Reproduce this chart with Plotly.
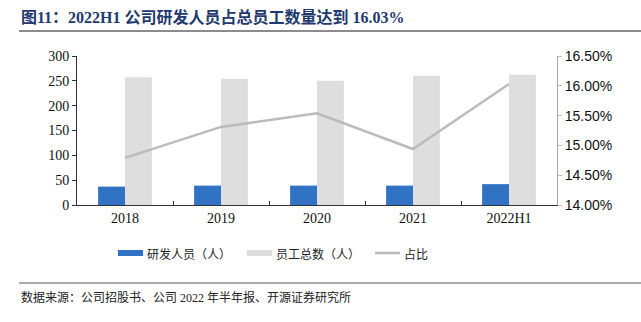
import plotly.graph_objects as go

categories = ["2018", "2019", "2020", "2021", "2022H1"]
rd_staff = [37, 39, 39, 39, 42]
total_staff = [257, 254, 250, 260, 262]
ratio_pct = [14.79, 15.31, 15.54, 14.94, 16.03]
series_names = ["研发人员（人）", "员工总数（人）", "占比"]
title_text = "图11：2022H1 公司研发人员占总员工数量达到 16.03%"
source_text = "数据来源：公司招股书、公司 2022 年半年报、开源证券研究所"

BLUE = "#3072C4"
GRAY = "#DEDEDE"
LINE = "#BBBBBB"
CJK = "Noto Sans CJK SC"
SERIF = "Liberation Serif"
SANS = "Liberation Sans"
MIX = "Liberation Serif, Noto Sans CJK SC"

W, H = 641, 322
L, R, T, B = 77, 557, 56, 205

def px(x):
    return (x - L) / (R - L)

def py(y):
    return (B - y) / (B - T)

fig = go.Figure()
fig.add_trace(go.Bar(x=categories, y=rd_staff, name=series_names[0],
                     marker=dict(color=BLUE, line=dict(width=0)), showlegend=False))
fig.add_trace(go.Bar(x=categories, y=total_staff, name=series_names[1],
                     marker=dict(color=GRAY, line=dict(width=0)), showlegend=False))
fig.add_trace(go.Scatter(x=categories, y=ratio_pct, name=series_names[2], yaxis="y2",
                         mode="lines", line=dict(color=LINE, width=2.5), showlegend=False))

shapes = []
annotations = []

# title
annotations.append(dict(text="<b>" + title_text + "</b>", xref="paper", yref="paper",
                        x=px(19), y=py(17), xanchor="left", yanchor="middle", showarrow=False,
                        font=dict(family=MIX, size=16, color="#1F3A6E")))
shapes.append(dict(type="line", xref="paper", yref="paper", x0=px(19), x1=px(641),
                   y0=py(31), y1=py(31), line=dict(color="#8C8C8C", width=2)))

# legend (manual)
leg_y = 253
leg = [(118, series_names[0], BLUE, "bar"), (247, series_names[1], GRAY, "bar"),
       (375, series_names[2], LINE, "line")]
for x0, name, col, kind in leg:
    if kind == "bar":
        shapes.append(dict(type="rect", xref="paper", yref="paper", x0=px(x0), x1=px(x0 + 25),
                           y0=py(leg_y + 3), y1=py(leg_y - 3), fillcolor=col, line=dict(width=0)))
    else:
        shapes.append(dict(type="line", xref="paper", yref="paper", x0=px(x0), x1=px(x0 + 25),
                           y0=py(leg_y), y1=py(leg_y), line=dict(color=col, width=2.5)))
    annotations.append(dict(text=name, xref="paper", yref="paper", x=px(x0 + 27), y=py(leg_y),
                            xanchor="left", yanchor="middle", showarrow=False,
                            font=dict(family=CJK, size=12, color="#222222")))

# footer
shapes.append(dict(type="line", xref="paper", yref="paper", x0=px(19), x1=px(641),
                   y0=py(283), y1=py(283), line=dict(color="#555555", width=1)))
annotations.append(dict(text=source_text, xref="paper", yref="paper", x=px(19), y=py(297),
                        xanchor="left", yanchor="middle", showarrow=False,
                        font=dict(family=MIX, size=12, color="#222222")))

fig.update_layout(
    width=W, height=H,
    margin=dict(l=L, r=W - R, t=T, b=H - B, pad=0),
    paper_bgcolor="white", plot_bgcolor="white",
    barmode="group", bargap=0.44, bargroupgap=0,
    shapes=shapes, annotations=annotations,
    xaxis=dict(type="category", showline=True, linecolor="#333333", linewidth=1,
               ticks="inside", tickson="boundaries", ticklen=4, tickcolor="#333333",
               tickfont=dict(family=SERIF, size=14, color="#111111"), showgrid=False),
    yaxis=dict(range=[0, 300], dtick=50, showline=True, linecolor="#333333", linewidth=1,
               ticks="outside", ticklen=4, tickcolor="#333333", showgrid=False, zeroline=False,
               tickfont=dict(family=SERIF, size=14, color="#111111")),
    yaxis2=dict(range=[14, 16.5], dtick=0.5, overlaying="y", side="right",
                showline=True, linecolor="#A6A6A6", linewidth=1, ticks="outside", ticklen=4,
                tickcolor="#BFBFBF", showgrid=False, zeroline=False,
                tickvals=[14, 14.5, 15, 15.5, 16, 16.5],
                ticktext=["14.00%", "14.50%", "15.00%", "15.50%", "16.00%", "16.50%"],
                tickfont=dict(family=SANS, size=14, color="#111111")),
)

fig.write_html("out.html")
